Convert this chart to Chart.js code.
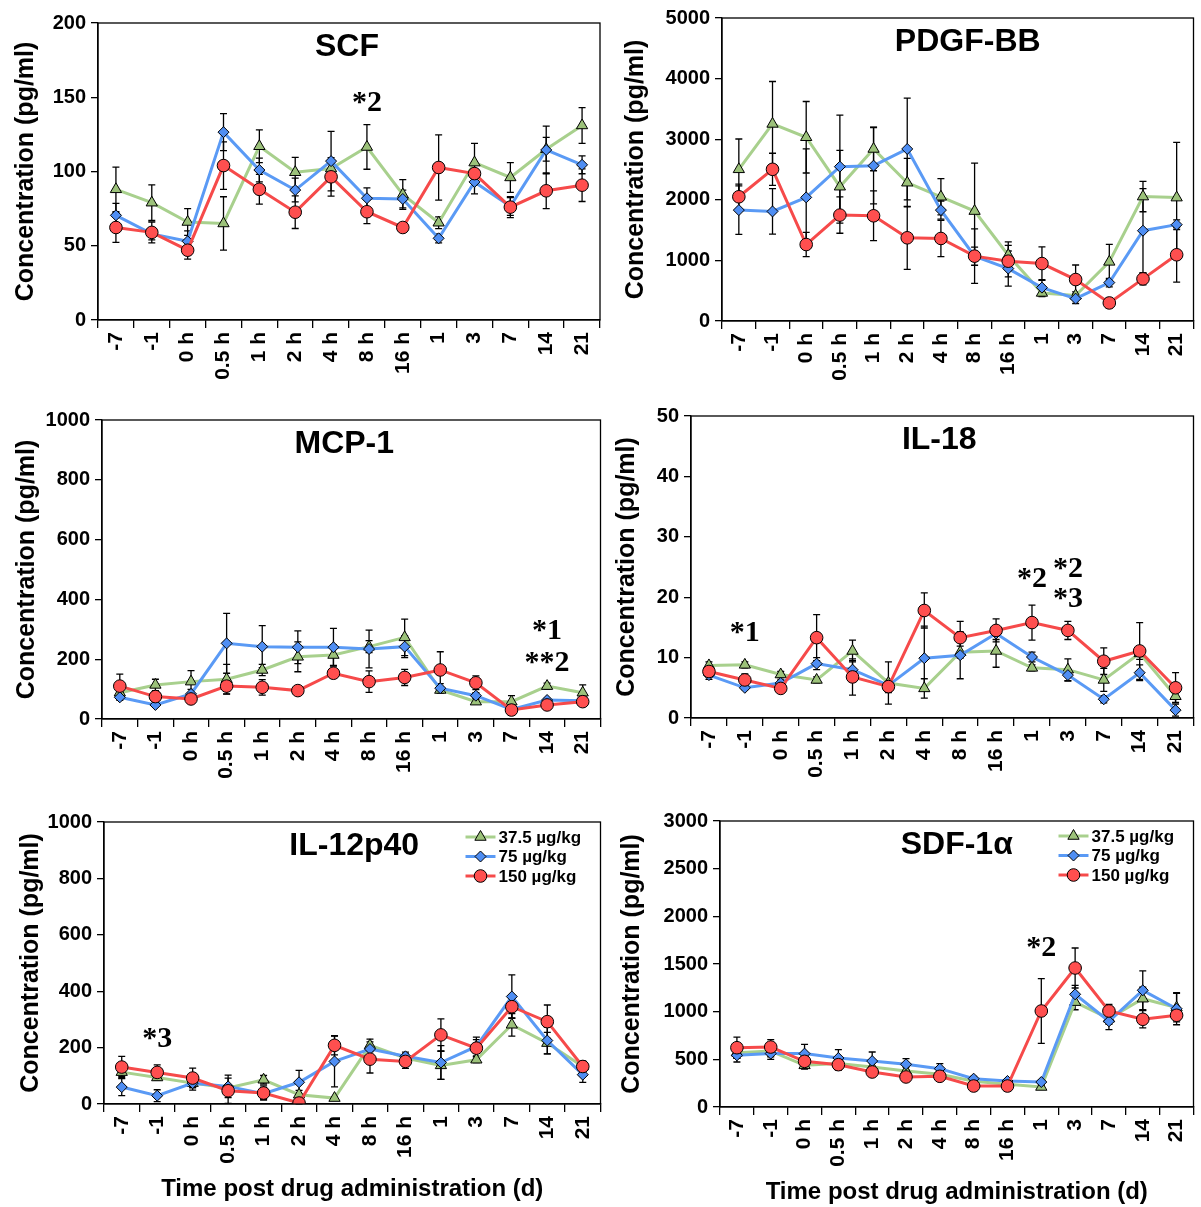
<!DOCTYPE html>
<html>
<head>
<meta charset="utf-8">
<script src="https://cdn.jsdelivr.net/npm/chart.js@4.4.1/dist/chart.umd.min.js"></script>
<style>
  body { margin: 0; background: #fff; width: 1201px; height: 1207px; position: relative; overflow: hidden; }
  canvas { position: absolute; }
</style>
</head>
<body>
<script>
// time points shared by every panel
const timeLabels = ['-7', '-1', '0 h', '0.5 h', '1 h', '2 h', '4 h', '8 h', '16 h', '1', '3', '7', '14', '21'];
const doseNames = ['37.5 µg/kg', '75 µg/kg', '150 µg/kg'];

// SCF
const scfLow = [88, 79, 66, 65, 117, 99.5, 102, 116.5, 84.5, 65.5, 106, 96, 115, 131];
const scfLowErr = [15, 12, 9, 18, 11, 10, 5, 15, 10, 4, 13, 10, 8, 12];
const scfMid = [70.5, 58, 53, 126.5, 101, 87.5, 107, 82, 81.5, 55, 93, 76.5, 114.5, 104.5];
const scfMidErr = [8, 4, 7, 12.5, 8, 8, 20, 7, 6, 3, 8, 6, 16, 6];
const scfHigh = [62.3, 59, 47, 104, 88, 72.6, 96.4, 72.9, 62.3, 102.7, 98.6, 76, 87, 90.8];
const scfHighErr = [10, 7, 6, 16, 10, 11, 13, 8, 2, 22, 8, 7, 12, 11];

// PDGF-BB
const pdgfLow = [2503, 3252, 3032, 2216, 2839, 2282, 2050, 1814, 1086, 463, 420, 976, 2053, 2036];
const pdgfLowErr = [500, 700, 590, 600, 360, 400, 300, 790, 220, 60, 60, 290, 250, 910];
const pdgfMid = [1830, 1808, 2040, 2547, 2563, 2839, 1830, 1070, 865, 551, 369, 634, 1490, 1590];
const pdgfMidErr = [400, 375, 800, 850, 630, 840, 150, 150, 290, 130, 80, 70, 695, 80];
const pdgfHigh = [2050, 2503, 1262, 1748, 1736, 1373, 1362, 1070, 987, 948, 684, 298, 695, 1093];
const pdgfHighErr = [210, 265, 200, 300, 410, 520, 300, 450, 260, 276, 240, 80, 100, 450];

// MCP-1
const mcpLow = [88, 114, 125, 133, 164, 208, 214, 242, 273, 97, 58, 58, 110, 88];
const mcpLowErr = [10, 19, 37, 50, 19, 50, 35, 20, 61, 10, 8, 20, 10, 26];
const mcpMid = [72.5, 47, 84, 253, 242, 240, 240, 234, 242, 103, 78, 32, 63.5, 61];
const mcpMidErr = [10, 5, 15, 100, 70, 55, 63, 63, 37, 15, 10, 5, 5, 5];
const mcpHigh = [110, 75, 67, 110, 106, 95, 153, 125, 139, 164, 121, 30, 47, 58];
const mcpHighErr = [40, 10, 10, 26, 26, 8, 10, 36, 27, 61, 23, 5, 5, 5];

// IL-18
const il18Low = [8.7, 8.8, 7.2, 6.3, 11.1, 5.8, 4.9, 10.9, 11.1, 8.3, 8.0, 6.3, 10.7, 3.6];
const il18LowErr = [0.6, 0.5, 0.5, 0.5, 1.8, 3.5, 1.6, 1, 2.7, 0.5, 1.8, 1.9, 1, 1];
const il18Mid = [7.1, 5.0, 5.8, 9.0, 8.0, 5.4, 9.9, 10.4, 14.0, 10.1, 7.1, 3.1, 7.5, 1.3];
const il18MidErr = [0.7, 0.3, 0.5, 1, 1.5, 1, 5.3, 3.9, 1, 0.8, 1, 0.6, 1.3, 1];
const il18High = [7.7, 6.3, 4.9, 13.3, 6.8, 5.2, 17.8, 13.3, 14.5, 15.8, 14.5, 9.4, 11.1, 5.0];
const il18HighErr = [0.8, 1, 0.3, 3.8, 3.0, 1, 2.9, 2.7, 1.9, 2.9, 1.5, 2.2, 4.7, 2.5];

// IL-12p40
const il12Low = [113, 94, 74, 57, 86, 33, 21, 208, 163, 137, 157, 281, 216, 133];
const il12LowErr = [15, 10, 15, 10, 15, 15, 5, 22, 15, 50, 10, 40, 38, 15];
const il12Mid = [60, 29.5, 74, 62.5, 36.6, 77, 151, 195, 169, 147, 204, 381, 225, 104];
const il12MidErr = [30, 21, 25, 40, 20, 42, 90, 25, 15, 60, 33, 77, 47, 27];
const il12High = [131, 112, 92, 47, 39, 3.5, 208, 159, 151, 245, 198, 345, 292, 133];
const il12HighErr = [38, 27, 35, 45, 25, 3, 34, 49, 25, 57, 30, 40, 59, 20];

// SDF-1α
const sdfLow = [570, 587, 437, 455, 420, 378, 343, 270, 238, 210, 1100, 927, 1136, 1042];
const sdfLowErr = [60, 60, 40, 40, 40, 40, 30, 30, 20, 20, 80, 60, 120, 150];
const sdfMid = [542, 560, 560, 514, 482, 448, 402, 297, 273, 262, 1182, 899, 1224, 1031];
const sdfMidErr = [70, 60, 97, 87, 95, 59, 53, 25, 25, 20, 94, 88, 203, 168];
const sdfHigh = [622, 629, 479, 444, 367, 315, 322, 220, 220, 1007, 1458, 1007, 920, 962];
const sdfHighErr = [112, 77, 40, 59, 30, 30, 30, 20, 20, 339, 210, 70, 91, 40];

// significance marks: category index, value, text
const scfNotes = [[7, 146, '*2']];
const pdgfNotes = [];
const mcpNotes = [[12, 292, '*1'], [12, 186, '**2']];
const il18Notes = [[1, 14, '*1'], [9, 23, '*2'], [10, 24.7, '*2'], [10, 19.6, '*3']];
const il12Notes = [[1, 228, '*3']];
const sdfNotes = [[9, 1660, '*2']];

Chart.defaults.font.family = '"Liberation Sans", Arial, sans-serif';
Chart.defaults.color = '#000';

const doseStyles = [
    { line: '#a8d08d', fill: '#9cc27a', shape: 'triangle', radius: 6.5 },
    { line: '#5a9af5', fill: '#4f8ef3', shape: 'rectRot', radius: 5.5 },
    { line: '#f64a4a', fill: '#ff4f4f', shape: 'circle', radius: 6.3 }
];

// box = canvas [left, top, w, h], area = wanted plot area [L, T, R, B] in page px
const panels = [
    { title: 'SCF', box: [0, 0, 608, 400], area: [98, 23, 600, 320], max: 200, step: 50, yTitleX: 26,
      series: [[scfLow, scfLowErr], [scfMid, scfMidErr], [scfHigh, scfHighErr]], notes: scfNotes, dx: -2 },
    { title: 'PDGF-BB', box: [608, 0, 593, 400], area: [722, 18, 1200, 321], max: 5000, step: 1000, yTitleX: 636,
      series: [[pdgfLow, pdgfLowErr], [pdgfMid, pdgfMidErr], [pdgfHigh, pdgfHighErr]], notes: pdgfNotes, dx: 10 },
    { title: 'MCP-1', box: [0, 400, 608, 400], area: [102, 420, 604, 719], max: 1000, step: 200, yTitleX: 27,
      series: [[mcpLow, mcpLowErr], [mcpMid, mcpMidErr], [mcpHigh, mcpHighErr]], notes: mcpNotes, dx: -7 },
    { title: 'IL-18', box: [608, 400, 593, 400], area: [691, 416, 1200, 718], max: 50, step: 10, yTitleX: 627,
      series: [[il18Low, il18LowErr], [il18Mid, il18MidErr], [il18High, il18HighErr]], notes: il18Notes, dx: -3 },
    { title: 'IL-12p40', box: [0, 800, 608, 407], area: [104, 822, 607, 1104], max: 1000, step: 200, yTitleX: 31,
      series: [[il12Low, il12LowErr], [il12Mid, il12MidErr], [il12High, il12HighErr]], notes: il12Notes, dx: 2,
      legend: true, xTitlePad: 3.6 },
    { title: 'SDF-1α', box: [608, 800, 593, 407], area: [720, 821, 1200, 1107], max: 3000, step: 500, yTitleX: 632,
      series: [[sdfLow, sdfLowErr], [sdfMid, sdfMidErr], [sdfHigh, sdfHighErr]], notes: sdfNotes, dx: 0,
      legend: true, xTitlePad: 0 }
];

// frame, error bars, in-plot title, star marks and legend
const panelDeco = {
    id: 'panelDeco',
    beforeDatasetsDraw(chart) {
        const ctx = chart.ctx;
        const y = chart.scales.y;
        ctx.save();
        ctx.strokeStyle = '#000';
        ctx.lineWidth = 1.3;
        chart.data.datasets.forEach((ds, i) => {
            const meta = chart.getDatasetMeta(i);
            ds.errors.forEach((e, j) => {
                const px = meta.data[j].x;
                const top = y.getPixelForValue(ds.data[j] + e);
                const bot = y.getPixelForValue(Math.max(ds.data[j] - e, 0));
                ctx.beginPath();
                ctx.moveTo(px, top); ctx.lineTo(px, bot);
                ctx.moveTo(px - 3.5, top); ctx.lineTo(px + 3.5, top);
                ctx.moveTo(px - 3.5, bot); ctx.lineTo(px + 3.5, bot);
                ctx.stroke();
            });
        });
        ctx.restore();
    },
    afterDraw(chart, args, opts) {
        const ctx = chart.ctx;
        const a = chart.chartArea;
        const x = chart.scales.x, y = chart.scales.y;
        ctx.save();
        ctx.strokeStyle = '#000';
        ctx.lineWidth = 1.3;
        ctx.strokeRect(a.left, a.top, a.right - a.left, a.bottom - a.top);

        ctx.fillStyle = '#000';
        ctx.textAlign = 'center';
        ctx.textBaseline = 'middle';
        ctx.font = 'bold 32px "Liberation Sans", Arial, sans-serif';
        ctx.fillText(opts.title, (a.left + a.right) / 2 + opts.dx, a.top + 24);

        ctx.font = 'bold 30px "Liberation Serif", "Times New Roman", serif';
        opts.notes.forEach(n => {
            ctx.fillText(n[2], x.getPixelForValue(n[0]), y.getPixelForValue(n[1]));
        });

        if (opts.legend) {
            ctx.font = 'bold 17px "Liberation Sans", Arial, sans-serif';
            ctx.textAlign = 'left';
            const lx = a.right - 135;
            chart.data.datasets.forEach((ds, i) => {
                const ly = a.top + 15 + i * 19.5;
                const st = doseStyles[i];
                ctx.strokeStyle = st.line;
                ctx.lineWidth = 3;
                ctx.beginPath();
                ctx.moveTo(lx, ly); ctx.lineTo(lx + 30, ly);
                ctx.stroke();
                ctx.fillStyle = st.fill;
                ctx.strokeStyle = '#000';
                ctx.lineWidth = 1;
                Chart.helpers.drawPoint(ctx, { pointStyle: st.shape, radius: st.radius, borderWidth: 1, rotation: 0 }, lx + 15, ly);
                ctx.fillStyle = '#000';
                ctx.fillText(ds.label, lx + 33, ly + 1);
            });
        }
        ctx.restore();
    }
};

function makePanel(p) {
    const [bl, bt, bw, bh] = p.box;
    const [L, T, R, B] = p.area;
    const canvas = document.createElement('canvas');
    canvas.width = bw;
    canvas.height = bh;
    canvas.style.left = bl + 'px';
    canvas.style.top = bt + 'px';
    canvas.style.width = bw + 'px';
    canvas.style.height = bh + 'px';
    document.body.appendChild(canvas);

    const datasets = p.series.map((s, i) => ({
        label: doseNames[i],
        data: s[0],
        errors: s[1],
        borderColor: doseStyles[i].line,
        backgroundColor: doseStyles[i].fill,
        pointBackgroundColor: doseStyles[i].fill,
        pointBorderColor: '#000',
        pointBorderWidth: 1,
        pointStyle: doseStyles[i].shape,
        pointRadius: doseStyles[i].radius,
        borderWidth: 3,
        tension: 0,
        order: 3 - i
    }));

    new Chart(canvas, {
        type: 'line',
        data: { labels: timeLabels, datasets },
        options: {
            responsive: false,
            animation: false,
            layout: { padding: { left: 0, top: T - bt, right: bl + bw - R, bottom: 0 } },
            plugins: {
                legend: { display: false },
                tooltip: { enabled: false },
                panelDeco: { title: p.title, dx: p.dx, notes: p.notes, legend: !!p.legend }
            },
            scales: {
                x: {
                    type: 'category',
                    offset: true,
                    grid: { offset: true, drawOnChartArea: false, color: '#000', lineWidth: 1.3, tickLength: 8 },
                    border: { color: '#000', width: 1.3 },
                    ticks: { autoSkip: false, minRotation: 90, maxRotation: 90, padding: 4,
                             font: { size: 21, weight: 'bold' }, color: '#000' },
                    title: { display: p.xTitlePad !== undefined, text: 'Time post drug administration (d)',
                             font: { size: 24, weight: 'bold' }, padding: { top: 0, bottom: p.xTitlePad || 0 } },
                    afterFit: s => { s.height = bt + bh - B; s.paddingLeft = 0; s.paddingRight = 0; }
                },
                y: {
                    min: 0,
                    max: p.max,
                    grid: { drawOnChartArea: false, color: '#000', lineWidth: 1.3, tickLength: 7 },
                    border: { color: '#000', width: 1.3 },
                    ticks: { stepSize: p.step, padding: 5, font: { size: 20, weight: 'bold' }, color: '#000',
                             callback: v => String(v) },
                    title: { display: true, text: 'Concentration (pg/ml)', font: { size: 25, weight: 'bold' },
                             padding: { top: p.yTitleX - bl - 15, bottom: 0 } },
                    afterFit: s => { s.width = L - bl; s.paddingTop = 0; s.paddingBottom = 0; }
                }
            }
        },
        plugins: [panelDeco]
    });
}

panels.forEach(makePanel);
</script>
</body>
</html>
